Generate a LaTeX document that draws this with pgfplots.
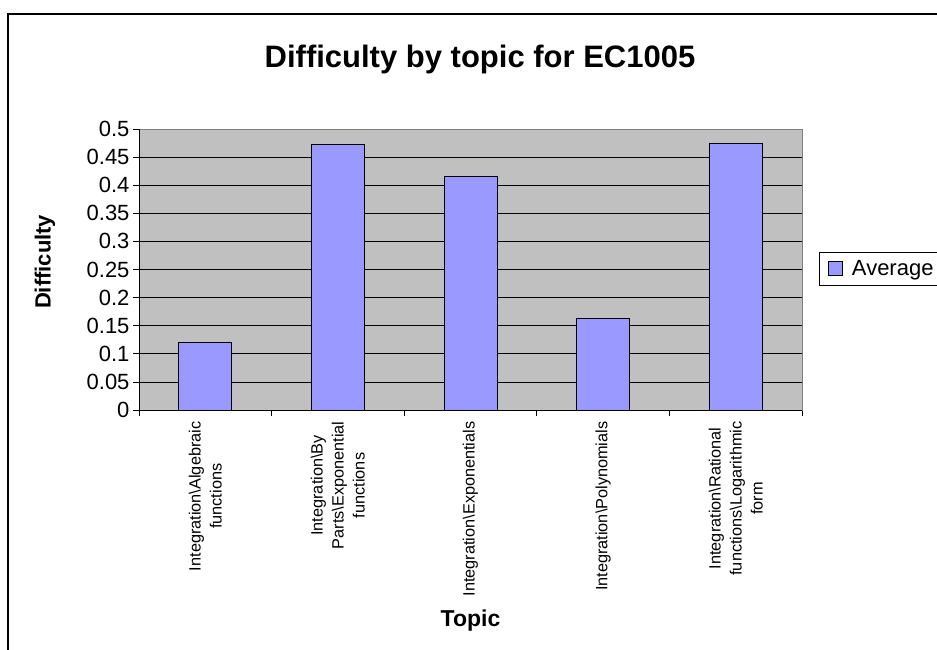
\documentclass[border=0pt]{standalone}
\usepackage{pgfplots}
\pgfplotsset{compat=1.18}
\usepackage{fontspec}
\setmainfont{Liberation Sans}

\definecolor{barfill}{HTML}{9999FF}
\definecolor{plotbg}{HTML}{C0C0C0}
\definecolor{frame}{HTML}{808080}

\begin{document}
\begin{tikzpicture}
\path[use as bounding box] (0bp,0bp) rectangle (937bp,-650bp);
% chart area border
\draw[line width=1.5bp] (8bp,-700bp) -- (8bp,-14bp) -- (1000bp,-14bp);
% chart title
\node[font=\bfseries\fontsize{31bp}{36bp}\selectfont, anchor=base] at (480bp,-67bp)
  {Difficulty by topic for EC1005};
\begin{axis}[
  at={(139bp,-410bp)}, anchor=south west,
  scale only axis, width=663bp, height=281bp,
  xmin=-0.5, xmax=4.5, ymin=0, ymax=0.5,
  axis background/.style={fill=plotbg},
  axis line style={draw=frame, line width=0.8bp},
  ytick={0,0.05,0.1,0.15,0.2,0.25,0.3,0.35,0.4,0.45,0.5},
  yticklabel style={/pgf/number format/assume math mode=true,
    /pgf/number format/fixed, /pgf/number format/precision=2,
    font=\fontsize{22bp}{26bp}\selectfont},
  ymajorgrids, major grid style={black, line width=0.8bp},
  tick align=outside, tick style={black, line width=0.8bp},
  major tick length=6bp, minor tick length=6bp,
  ytick pos=left,
  xtick={0,1,2,3,4},
  minor xtick={-0.5,0.5,1.5,2.5,3.5,4.5},
  xtick pos=bottom,
  major x tick style={draw=none},
  xticklabels={
    {Integration\textbackslash Algebraic\\functions},
    {Integration\textbackslash By\\Parts\textbackslash Exponential\\functions},
    {Integration\textbackslash Exponentials},
    {Integration\textbackslash Polynomials},
    {Integration\textbackslash Rational\\functions\textbackslash Logarithmic\\form}},
  xticklabel style={rotate=90, anchor=east, align=center, xshift=-2bp,
    font=\fontsize{16.3bp}{21bp}\selectfont},
  xlabel={Topic},
  xlabel style={at={(axis description cs:0.5,-0.772)}, anchor=base,
    font=\bfseries\fontsize{23bp}{28bp}\selectfont},
  ylabel={Difficulty},
  ylabel style={at={(axis description cs:-0.142,0.527)}, anchor=center,
    font=\bfseries\fontsize{22bp}{26bp}\selectfont},
  legend style={at={(axis description cs:1.0256,0.562)}, anchor=north west,
    draw=black, line width=0.8bp, fill=white,
    font=\fontsize{22bp}{26bp}\selectfont,
    inner xsep=9bp, inner ysep=6bp},
  legend image code/.code={\draw[#1, line width=0.6bp] (0bp,-7bp) rectangle (14bp,7bp);},
  after end axis/.code={
    \draw[black, line width=0.8bp] (rel axis cs:0,1) -- (rel axis cs:0,0) -- (rel axis cs:1,0);
  },
]
\addplot[ybar, bar width=53bp, fill=barfill, draw=black, line width=0.8bp]
  coordinates {(0,0.120) (1,0.472) (2,0.415) (3,0.163) (4,0.474)};
\addlegendentry{\hspace{7bp}Average\hspace{40bp}}
\end{axis}
\end{tikzpicture}
\end{document}
